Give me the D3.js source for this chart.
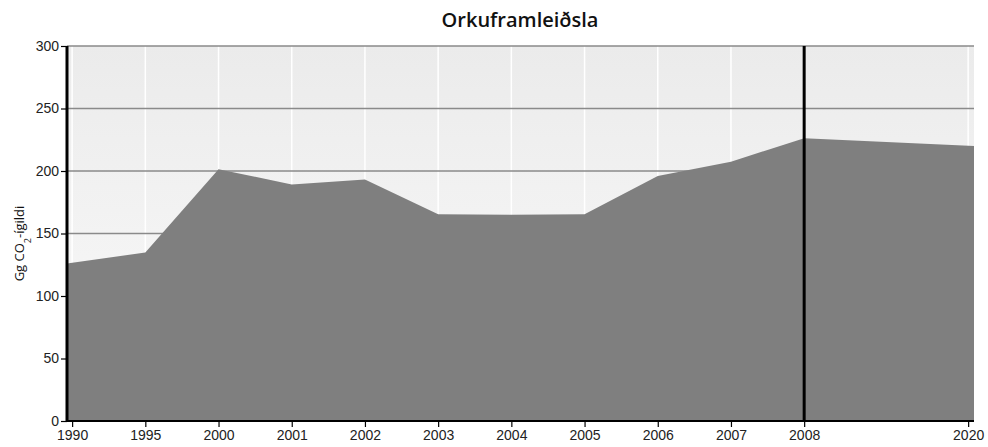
<!DOCTYPE html>
<html>
<head>
<meta charset="utf-8">
<script src="https://cdn.jsdelivr.net/npm/d3@7"></script>
<style>
  html, body { margin: 0; padding: 0; background: #fff; }
  svg { display: block; }
</style>
</head>
<body>
<svg id="chart" width="988" height="447"></svg>
<script>
// ---- data ----
const categories = ["1990","1995","2000","2001","2002","2003","2004","2005","2006","2007","2008","2020"];
const slots      = [0, 1, 2, 3, 4, 5, 6, 7, 8, 9, 10, 12.24];
const values     = [126, 134.8, 201.5, 189.3, 193.3, 165.5, 165, 165.5, 196, 207.5, 226.2, 220];
const yTicks     = [0, 50, 100, 150, 200, 250, 300];
const markerYear = "2008";
const title      = "Orkuframleiðsla";

// ---- layout ----
const W = 988, H = 447;
const m = {top: 46, right: 14, bottom: 26, left: 67};
const svg = d3.select("#chart");

const x = d3.scaleLinear().domain([-0.07, 12.32]).range([m.left, W - m.right]);
const y = d3.scaleLinear().domain([0, 300]).range([H - m.bottom, m.top]);

// background gradient
const defs = svg.append("defs");
const grad = defs.append("linearGradient").attr("id", "bg").attr("x1", 0).attr("y1", 0).attr("x2", 0).attr("y2", 1);
grad.append("stop").attr("offset", "0%").attr("stop-color", "#ebebeb");
grad.append("stop").attr("offset", "100%").attr("stop-color", "#fbfbfb");

svg.append("rect")
  .attr("x", m.left).attr("y", m.top)
  .attr("width", W - m.right - m.left).attr("height", H - m.bottom - m.top)
  .attr("fill", "url(#bg)");

// vertical white gridlines
svg.append("g").selectAll("line").data(slots).join("line")
  .attr("x1", d => x(d)).attr("x2", d => x(d))
  .attr("y1", m.top).attr("y2", H - m.bottom)
  .attr("stroke", "#ffffff").attr("stroke-width", 1.5);

// horizontal gridlines
svg.append("g").selectAll("line").data(yTicks.filter(d => d > 0)).join("line")
  .attr("x1", m.left).attr("x2", W - m.right)
  .attr("y1", d => y(d)).attr("y2", d => y(d))
  .attr("stroke", "#8a8a8a").attr("stroke-width", 1.5);

// area
const pts = values.map((v, i) => ({
  x: i === 0 ? x.range()[0] : (i === values.length - 1 ? x.range()[1] : x(slots[i])),
  v
}));
const area = d3.area().x(d => d.x).y0(y(0)).y1(d => y(d.v));
svg.append("path").datum(pts).attr("d", area).attr("fill", "#7f7f7f");

// 2008 marker line
const mi = categories.indexOf(markerYear);
svg.append("line")
  .attr("x1", x(slots[mi])).attr("x2", x(slots[mi]))
  .attr("y1", m.top).attr("y2", H - m.bottom)
  .attr("stroke", "#000").attr("stroke-width", 3);

// y axis
const yAxis = svg.append("g").attr("transform", `translate(${m.left},0)`)
  .call(d3.axisLeft(y).tickValues(yTicks).tickSize(6).tickPadding(2).tickFormat(d3.format("d")));
yAxis.select(".domain").remove();
yAxis.selectAll(".tick line").attr("stroke", "#000").attr("stroke-width", 1.2);
yAxis.selectAll("text").attr("font-family", "Liberation Sans, Arial, sans-serif").attr("font-size", 14).attr("fill", "#222");
svg.append("line").attr("x1", m.left).attr("x2", m.left)
  .attr("y1", m.top).attr("y2", H - m.bottom + 1)
  .attr("stroke", "#000").attr("stroke-width", 3);

// x axis
const xAxis = svg.append("g").attr("transform", `translate(0,${H - m.bottom})`)
  .call(d3.axisBottom(x).tickValues(slots).tickSize(6).tickPadding(3)
    .tickFormat((d, i) => categories[i]));
xAxis.select(".domain").remove();
xAxis.selectAll(".tick line").attr("stroke", "#000").attr("stroke-width", 1.2);
xAxis.selectAll("text").attr("font-family", "Liberation Sans, Arial, sans-serif").attr("font-size", 14).attr("fill", "#222");
svg.append("line").attr("x1", m.left).attr("x2", W - m.right)
  .attr("y1", H - m.bottom).attr("y2", H - m.bottom)
  .attr("stroke", "#000").attr("stroke-width", 2);

// title
svg.append("text")
  .attr("x", 520).attr("y", 27)
  .attr("text-anchor", "middle")
  .attr("font-family", "Open Sans, sans-serif")
  .attr("font-weight", 600)
  .attr("font-size", 20)
  .attr("fill", "#111")
  .text(title);

// y label
const yl = svg.append("text")
  .attr("transform", `translate(24,${(m.top + H - m.bottom) / 2 + 10}) rotate(-90)`)
  .attr("text-anchor", "middle")
  .attr("font-family", "Open Sans, sans-serif")
  .attr("font-size", 13)
  .attr("fill", "#111");
yl.append("tspan").text("Gg CO");
yl.append("tspan").attr("baseline-shift", "sub").attr("font-size", 9).text("2");
yl.append("tspan").text("-ígildi");
</script>
</body>
</html>
